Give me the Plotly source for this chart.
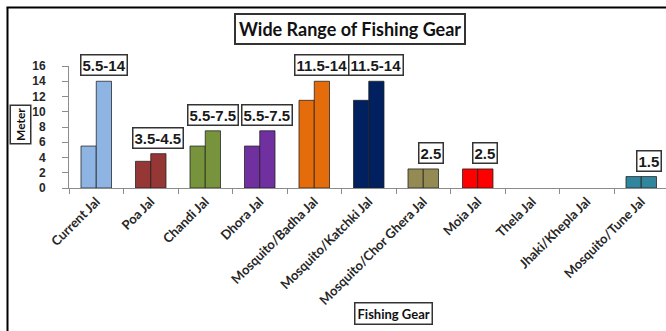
import plotly.graph_objects as go

# Fishing gear types and their mesh / length range (metres)
gear = [
    "Current Jal", "Poa Jal", "Chandi Jal", "Dhora Jal", "Mosquito/Badha Jal",
    "Mosquito/Katchki Jal", "Mosquito/Chor Ghera Jal", "Moia Jal", "Thela Jal",
    "Jhaki/Khepla Jal", "Mosquito/Tune Jal",
]
low_m = [5.5, 3.5, 5.5, 5.5, 11.5, 11.5, 2.5, 2.5, None, None, 1.5]
high_m = [14, 4.5, 7.5, 7.5, 14, 14, 2.5, 2.5, None, None, 1.5]
range_labels = ["5.5-14", "3.5-4.5", "5.5-7.5", "5.5-7.5", "11.5-14", "11.5-14",
                "2.5", "2.5", None, None, "1.5"]
gear_colors = ["#8DB4E2", "#953735", "#77933C", "#7030A0", "#E46C0A", "#002060",
               "#948A54", "#FF0000", "#808080", "#808080", "#31859C"]
y_ticks = [0, 2, 4, 6, 8, 10, 12, 14, 16]

W, H = 666, 331
ML, MR, MT, MB = 69, 0, 66, 143
PW, PH = W - ML - MR, H - MT - MB
BARGAP = 0.44

def px_x(p):
    return (p - ML) / PW

def px_y(p):
    return (H - MB - p) / PH

NUM_FONT = "Liberation Sans, Arial, sans-serif"
TXT_FONT = "Lato, Calibri, sans-serif"
EDGE = "rgba(30,30,30,0.75)"

fig = go.Figure()
for vals in (low_m, high_m):
    fig.add_trace(go.Bar(
        x=gear, y=vals,
        marker=dict(color=gear_colors, line=dict(color=EDGE, width=1)),
        showlegend=False, hoverinfo="skip",
    ))

# Boxed range labels above the taller bar of each group
offset = (1 - BARGAP) / 4
for i, (lab, top) in enumerate(zip(range_labels, high_m)):
    if lab is None:
        continue
    fig.add_annotation(
        x=i + offset, y=top, xref="x", yref="y",
        text=f"<b>{lab}</b>", showarrow=False,
        xanchor="center", yanchor="bottom", yshift=5,
        font=dict(family=NUM_FONT, size=15, color="#1a1a1a"),
        bgcolor="white", bordercolor="#333333", borderwidth=1.5, borderpad=1,
    )

# Chart title and axis titles, each in a box
fig.add_annotation(
    x=px_x(350), y=px_y(29), xref="paper", yref="paper",
    xanchor="center", yanchor="middle",
    text="<b>Wide Range of Fishing Gear</b>", showarrow=False,
    font=dict(family=TXT_FONT, size=18, color="#111111"),
    bgcolor="white", bordercolor="#333333", borderwidth=2, borderpad=3,
)
fig.add_annotation(
    x=px_x(20.5), y=px_y(125), xref="paper", yref="paper",
    xanchor="center", yanchor="middle",
    text="<b>Meter</b>", textangle=-90, showarrow=False,
    font=dict(family=TXT_FONT, size=12, color="#111111"),
    bgcolor="white", bordercolor="#333333", borderwidth=1.5, borderpad=2,
)
fig.add_annotation(
    x=px_x(394), y=px_y(313), xref="paper", yref="paper",
    xanchor="center", yanchor="middle",
    text="<b>Fishing Gear</b>", showarrow=False,
    font=dict(family=TXT_FONT, size=13, color="#111111"),
    bgcolor="white", bordercolor="#333333", borderwidth=1.5, borderpad=2,
)

# Outer frame: only the left and top edges lie inside the page
frame = dict(type="line", xref="paper", yref="paper",
             line=dict(color="black", width=2), layer="below")
fig.add_shape(x0=px_x(7.5), x1=px_x(7.5), y0=px_y(7.5), y1=px_y(H), **frame)
fig.add_shape(x0=px_x(6.5), x1=px_x(W), y0=px_y(7.5), y1=px_y(7.5), **frame)

fig.update_layout(
    width=W, height=H,
    margin=dict(l=ML, r=MR, t=MT, b=MB),
    paper_bgcolor="white", plot_bgcolor="white",
    barmode="group", bargap=BARGAP, bargroupgap=0,
    xaxis=dict(
        type="category", range=[-0.5, -0.5 + PW / 54.5],
        showline=True, linecolor="#8c8c8c", linewidth=1,
        ticks="outside", tickson="boundaries", ticklen=5, tickcolor="#8c8c8c",
        tickangle=-45, showgrid=False,
        tickfont=dict(family=TXT_FONT, size=13, color="#262626", weight="bold"),
    ),
    yaxis=dict(
        range=[0, 16], tickvals=y_ticks, ticktext=[f"<b>{v}</b>" for v in y_ticks],
        showline=True, linecolor="#8c8c8c", linewidth=1,
        ticks="outside", ticklen=6, tickcolor="#8c8c8c", showgrid=False,
        zeroline=False, ticklabelstandoff=14,
        tickfont=dict(family=NUM_FONT, size=12, color="#262626"),
    ),
)

fig.write_html("out.html")
